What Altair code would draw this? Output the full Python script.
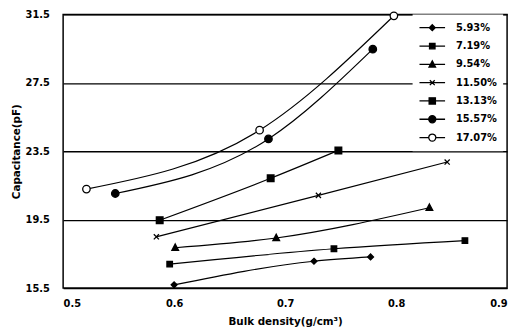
import altair as alt
import pandas as pd

series = ["5.93%", "7.19%", "9.54%", "11.50%", "13.13%", "15.57%", "17.07%"]
x_vals = [
    [0.600, 0.726, 0.777],
    [0.596, 0.744, 0.862],
    [0.601, 0.692, 0.830],
    [0.584, 0.730, 0.846],
    [0.587, 0.687, 0.748],
    [0.547, 0.685, 0.779],
    [0.521, 0.677, 0.798],
]
y_vals = [
    [15.69, 17.07, 17.32],
    [16.90, 17.80, 18.28],
    [17.86, 18.43, 20.20],
    [18.50, 20.92, 22.87],
    [19.47, 21.92, 23.55],
    [21.03, 24.22, 29.47],
    [21.29, 24.73, 31.42],
]
y_ticks = [15.5, 19.5, 23.5, 27.5, 31.5]
x_ticks = [0.5, 0.6, 0.7, 0.8, 0.9]

rows = []
for s, xs, ys in zip(series, x_vals, y_vals):
    for xv, yv in zip(xs, ys):
        rows.append({"series": s, "x": xv, "y": yv})
df = pd.DataFrame(rows)

circ = "M{r},0A{r},{r},0,1,1,-{r},0A{r},{r},0,1,1,{r},0Z"
plot_shapes = [
    "M0,-0.75L0.75,0L0,0.75L-0.75,0Z",
    "M-0.7,-0.7H0.7V0.7H-0.7Z",
    "M0,-0.95L0.85,0.7H-0.85Z",
    "M-0.65,-0.65L0.65,0.65M-0.65,0.65L0.65,-0.65",
    "M-0.85,-0.85H0.85V0.85H-0.85Z",
    circ.format(r=0.95),
    circ.format(r=0.95),
]
u = 13.0
def s(v):
    return round(v / u, 3)
legend_shapes = [
    "M-1,0H1M0,-%s L%s,0L0,%s L-%s,0Z" % (s(3), s(3), s(3), s(3)),
    "M-1,0H1M-%s,-%sH%sV%sH-%sZ" % ((s(2.8),) * 5),
    "M-1,0H1M0,-%sL%s,%sH-%sZ" % (s(3.5), s(3.3), s(2.7), s(3.3)),
    "M-1,0H1M-%s,-%sL%s,%sM-%s,%sL%s,-%s" % ((s(2.5),) * 8),
    "M-1,0H1M-%s,-%sH%sV%sH-%sZ" % ((s(3.2),) * 5),
    "M-1,0H1" + circ.format(r=s(3.6)),
    "M-1,0H-%sM%s,0H1" % (s(3.6), s(3.6)) + circ.format(r=s(3.6)),
]
fills = ["black", "black", "black", "black", "black", "black", "white"]
strokes = ["black"] * 7

FONT = "DejaVu Sans"

base = alt.Chart(df)

lines = base.mark_line(interpolate="monotone", color="black", strokeWidth=1.2).encode(
    x=alt.X("x:Q", scale=alt.Scale(domain=[0.5, 0.9], nice=False),
            axis=alt.Axis(values=x_ticks, format=".1f", title="Bulk density(g/cm³)",
                          grid=False, ticks=False, domain=False, labelPadding=11,
                          titlePadding=8)),
    y=alt.Y("y:Q", scale=alt.Scale(domain=[15.5, 31.5], nice=False, zero=False),
            axis=alt.Axis(values=y_ticks, format=".1f", title="Capacitance(pF)",
                          grid=True, gridColor="black", gridWidth=1.3, gridOpacity=1,
                          ticks=False, domain=False, labelPadding=14, titlePadding=4)),
    detail="series:N",
)

points = base.mark_point(strokeWidth=1.3, opacity=1, size=64).encode(
    x="x:Q",
    y="y:Q",
    shape=alt.Shape("series:N", scale=alt.Scale(domain=series, range=plot_shapes), legend=None),
    fill=alt.Fill("series:N", scale=alt.Scale(domain=series, range=fills), legend=None),
    stroke=alt.Stroke("series:N", scale=alt.Scale(domain=series, range=strokes), legend=None),
)

legend_layer = base.transform_filter("datum.y < 0").mark_point(
    strokeWidth=1.3, opacity=1, size=676
).encode(
    x="x:Q",
    y="y:Q",
    shape=alt.Shape("series:N", scale=alt.Scale(domain=series, range=legend_shapes),
                    legend=alt.Legend(title=None, orient="none", legendX=355, legendY=0,
                                      symbolSize=676, symbolStrokeWidth=1.3,
                                      clipHeight=15, rowPadding=3.6,
                                      padding=6, fillColor="white", labelFontSize=10,
                                      labelFont=FONT, labelFontWeight="bold",
                                      labelColor="black", labelOffset=10)),
    fill=alt.Fill("series:N", scale=alt.Scale(domain=series, range=fills), legend=None),
    stroke=alt.Stroke("series:N", scale=alt.Scale(domain=series, range=strokes), legend=None),
)

chart = alt.layer(lines, points, legend_layer).resolve_scale(
    shape="independent", fill="independent", stroke="independent"
).properties(
    width=451, height=278,
    autosize=alt.AutoSizeParams(type="none"),
    padding={"left": 56, "top": 4, "right": 6, "bottom": 37},
).configure_view(
    stroke="black", strokeWidth=1.5
).configure_axis(
    labelFont=FONT, labelFontSize=10, labelFontWeight="bold", labelColor="black",
    titleFont=FONT, titleFontSize=10.5, titleFontWeight="bold", titleColor="black",
)

chart.save("out.html", embed_options={"renderer": "svg", "actions": False})
